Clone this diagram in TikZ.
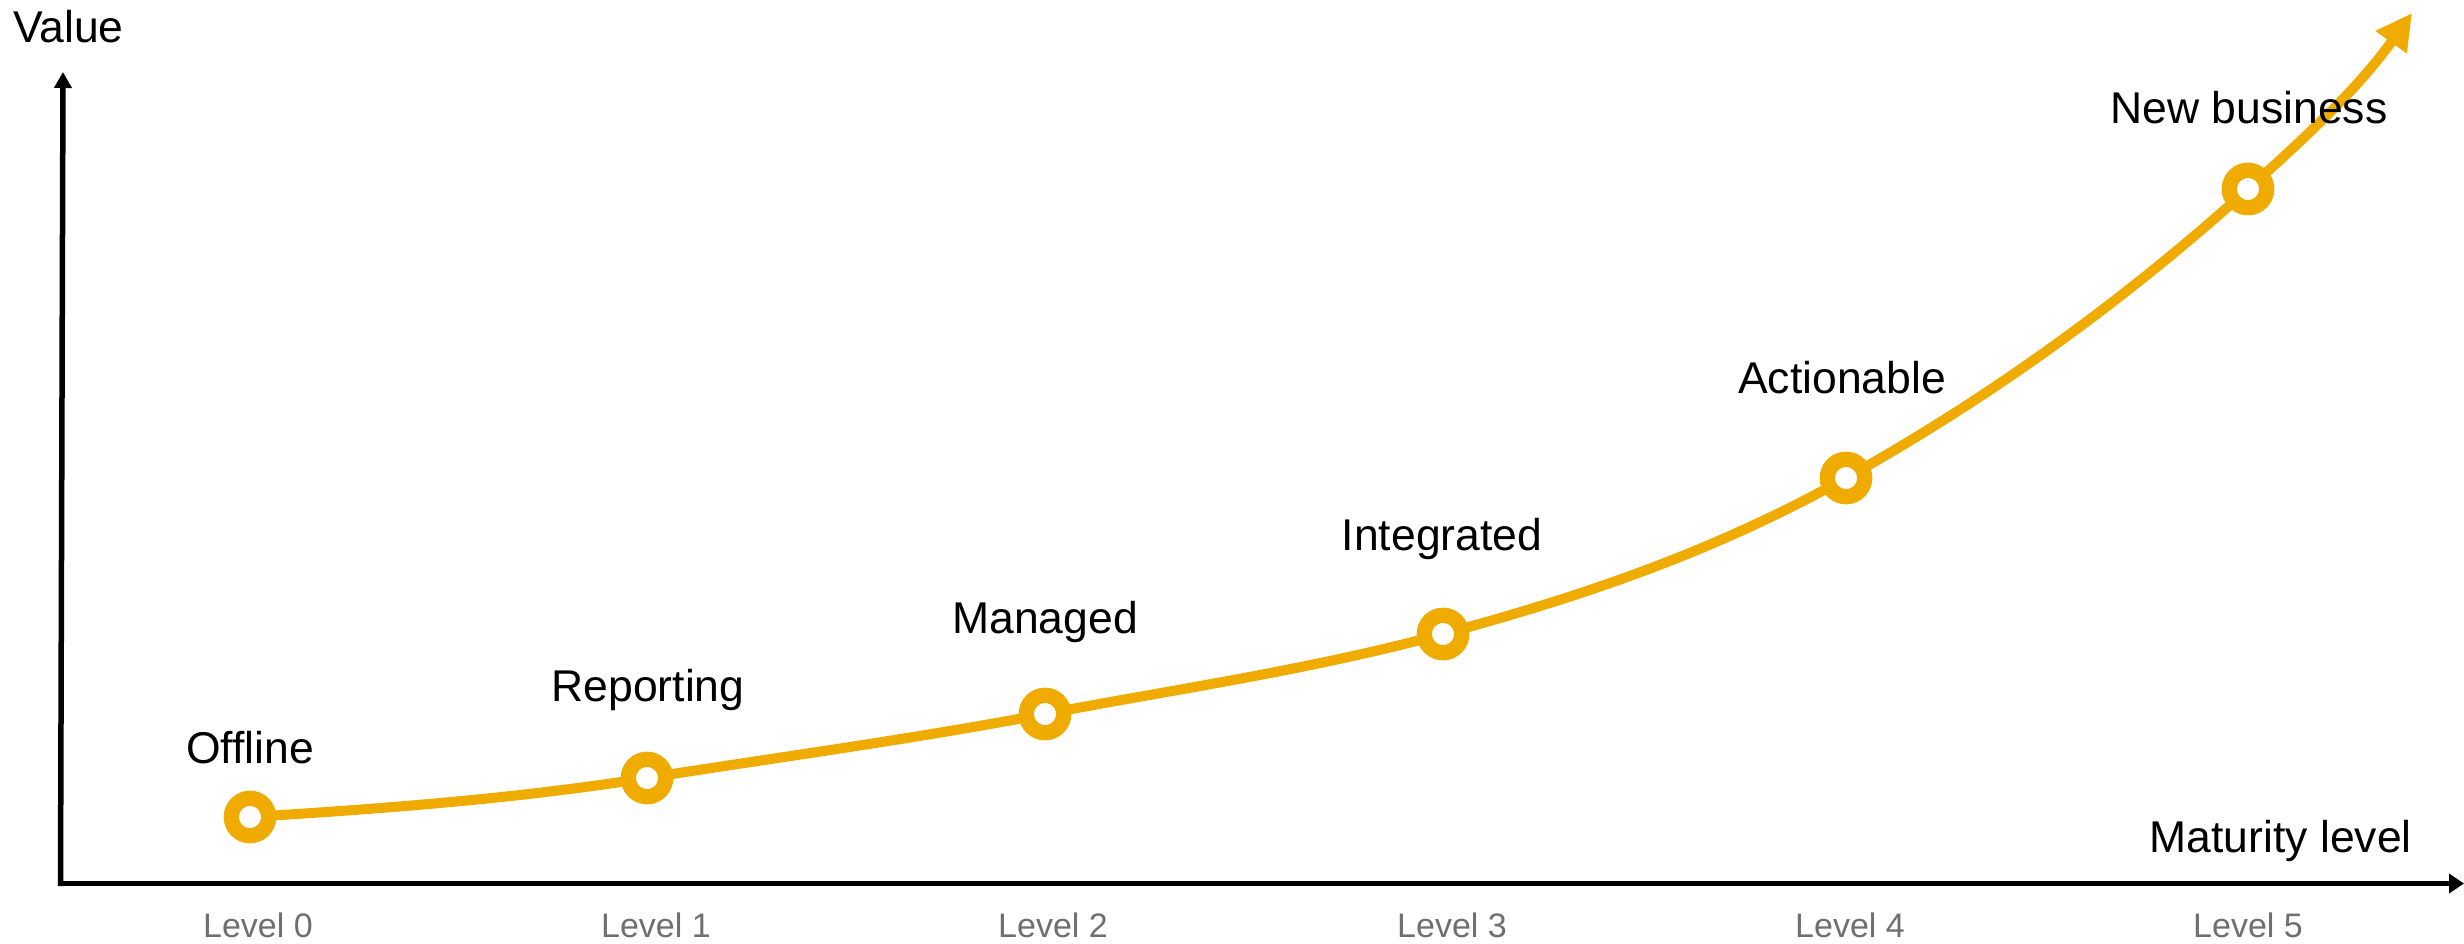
\documentclass[tikz,border=0pt]{standalone}
\usepackage{fontspec}
\setmainfont{Liberation Sans}
\usetikzlibrary{arrows.meta}
\definecolor{gold}{HTML}{F0AB00}
\definecolor{lvlgray}{HTML}{6F6F6F}
\tikzset{
  axisline/.style={line width=5.5pt, draw=black},
  curveline/.style={line width=10pt, draw=gold, -{Triangle[length=36pt,width=36pt]}},
  marker/.style={circle, draw=gold, line width=15.3pt, fill=white, minimum size=37.4pt, inner sep=0pt},
  stagelabel/.style={anchor=base, inner sep=0pt, font=\fontsize{44.5}{50}\selectfont, text=black},
  levellabel/.style={anchor=base, inner sep=0pt, font=\fontsize{34}{40}\selectfont, text=lvlgray}
}
\begin{document}
\begin{tikzpicture}[x=1pt,y=-1pt]
\useasboundingbox (0,0) rectangle (2464,943);
% axes
\coordinate (orig) at (60.5,883.5);
\coordinate (xstart) at (58,883.5);
\coordinate (xend) at (2464,883.5);
\coordinate (yend) at (63,72);
\draw[axisline, -{Triangle[length=15pt,width=19pt]}] (xstart) -- (xend);
\draw[axisline, -{Triangle[length=16pt,width=17pt]}] (60.5,886) -- (yend);
% curve points
\coordinate (p0) at (250,817);
\coordinate (p1) at (647,778);
\coordinate (p2) at (1045,714);
\coordinate (p3) at (1443,634);
\coordinate (p4) at (1846,478);
\coordinate (p5) at (2248,189);
\coordinate (tip) at (2412,13);
\draw[curveline] (p0)
  .. controls (382.3,808.7) and (514.7,798.9) .. (p1)
  .. controls (779.7,757.0) and (912.3,739.2) .. (p2)
  .. controls (1177.7,688.8) and (1310.3,669.8) .. (p3)
  .. controls (1577.3,597.7) and (1711.7,553.2) .. (p4)
  .. controls (1980,403.0) and (2114,309.6) .. (p5)
  .. controls (2302.7,139.8) and (2357.3,89.6) .. (tip);
% markers
\node[marker] (m0) at (p0) {};
\node[marker] (m1) at (p1) {};
\node[marker] (m2) at (p2) {};
\node[marker] (m3) at (p3) {};
\node[marker] (m4) at (p4) {};
\node[marker] (m5) at (p5) {};
% stage labels
\node[stagelabel] (t0) at (250,763) {Offline};
\node[stagelabel] (t1) at (648,701) {Reporting};
\node[stagelabel] (t2) at (1045,633) {Managed};
\node[stagelabel] (t3) at (1442,550) {Integrated};
\node[stagelabel] (t4) at (1842,393) {Actionable};
\node[stagelabel] (t5) at (2249,123) {New business};
% axis titles
\node[stagelabel, anchor=base west] (yt) at (13,42) {Value};
\node[stagelabel, anchor=base east] (xt) at (2412,852) {Maturity level};
% level labels
\node[levellabel] (l0) at (258,937) {Level 0};
\node[levellabel] (l1) at (656,937) {Level 1};
\node[levellabel] (l2) at (1053,937) {Level 2};
\node[levellabel] (l3) at (1452,937) {Level 3};
\node[levellabel] (l4) at (1850,937) {Level 4};
\node[levellabel] (l5) at (2248,937) {Level 5};
\end{tikzpicture}
\end{document}
